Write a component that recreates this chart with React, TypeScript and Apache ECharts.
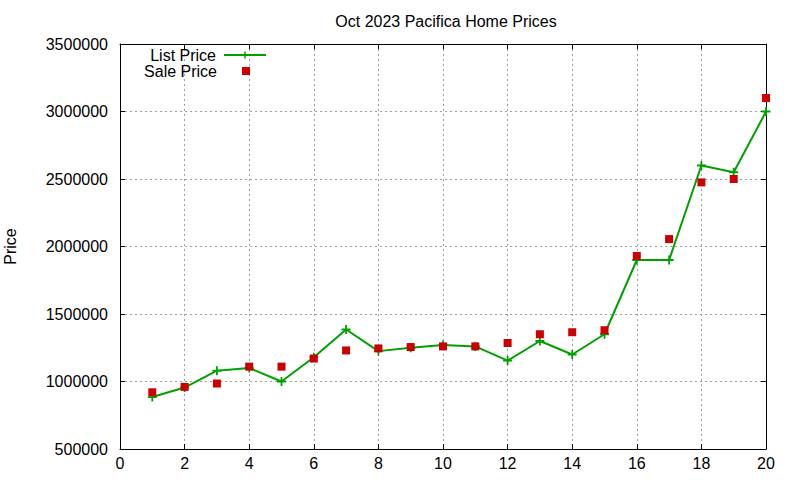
import React, { useEffect, useRef } from 'react'
import * as echarts from 'echarts'

const listings = [1, 2, 3, 4, 5, 6, 7, 8, 9, 10, 11, 12, 13, 14, 15, 16, 17, 18, 19, 20]
const listPrices = [885000, 955000, 1080000, 1100000, 1000000, 1180000, 1385000, 1225000, 1250000, 1270000, 1260000, 1155000, 1300000, 1200000, 1350000, 1900000, 1900000, 2600000, 2550000, 3000000]
const salePrices = [920000, 960000, 985000, 1110000, 1110000, 1170000, 1230000, 1245000, 1255000, 1260000, 1260000, 1285000, 1350000, 1365000, 1380000, 1930000, 2055000, 2475000, 2500000, 3100000]

const FONT = 'Liberation Sans, Arial, sans-serif'
const GREEN = '#00a000'
const RED = '#cc0000'
const PLUS = 'path://M4,0H6V4H10V6H6V10H4V6H0V4H4Z'

const App = () => {
    const chartRef = useRef<HTMLDivElement>(null)

    useEffect(() => {
        if (!chartRef.current) return
        const myChart = echarts.init(chartRef.current, null, { renderer: 'svg' })

        const axisLine = { show: true, onZero: false, lineStyle: { color: '#000', width: 1 } }
        const axisTick = { show: true, inside: true, length: 5, lineStyle: { color: '#000' } }
        const gridLine = { show: true, lineStyle: { color: '#a0a0a0', type: [2, 3], width: 1 } }
        const legendText = { fontFamily: FONT, fontSize: 16, color: '#000', lineHeight: 15 }

        const option = {
            animation: false,
            textStyle: { fontFamily: FONT },
            title: {
                text: 'Oct 2023 Pacifica Home Prices',
                left: 441,
                top: 8,
                textAlign: 'center',
                textStyle: { fontFamily: FONT, fontSize: 16, fontWeight: 'normal', color: '#000' },
            },
            legend: [
                {
                    data: ['List Price'],
                    right: 533,
                    top: 47,
                    padding: 0,
                    align: 'right',
                    itemWidth: 42,
                    itemHeight: 9,
                    textStyle: { ...legendText, padding: [0, 3, 0, 0] },
                    selectedMode: false,
                },
                {
                    data: [{ name: 'Sale Price', icon: 'rect' }],
                    right: 550,
                    top: 63,
                    padding: 0,
                    align: 'right',
                    itemWidth: 8,
                    itemHeight: 8,
                    textStyle: { ...legendText, padding: [0, 20, 0, 0] },
                    selectedMode: false,
                },
            ],
            grid: { left: 120, right: 34, top: 44, bottom: 31, containLabel: false, outerBoundsMode: 'none' },
            xAxis: [
                {
                    type: 'value',
                    min: 0,
                    max: 20,
                    interval: 2,
                    axisLine,
                    axisTick,
                    axisLabel: { fontFamily: FONT, fontSize: 16, color: '#000', margin: 6 },
                    splitLine: gridLine,
                },
                {
                    type: 'value',
                    position: 'top',
                    min: 0,
                    max: 20,
                    interval: 2,
                    axisLine,
                    axisTick,
                    axisLabel: { show: false },
                    splitLine: { show: false },
                },
            ],
            yAxis: [
                {
                    type: 'value',
                    min: 500000,
                    max: 3500000,
                    interval: 500000,
                    name: 'Price',
                    nameLocation: 'middle',
                    nameRotate: 90,
                    nameGap: 102,
                    nameTextStyle: { fontFamily: FONT, fontSize: 16, color: '#000' },
                    axisLine,
                    axisTick,
                    axisLabel: {
                        fontFamily: FONT,
                        fontSize: 16,
                        color: '#000',
                        margin: 12,
                        formatter: (v: number) => String(v),
                    },
                    splitLine: gridLine,
                },
                {
                    type: 'value',
                    position: 'right',
                    min: 500000,
                    max: 3500000,
                    interval: 500000,
                    axisLine,
                    axisTick,
                    axisLabel: { show: false },
                    splitLine: { show: false },
                },
            ],
            series: [
                {
                    name: 'List Price',
                    type: 'line',
                    data: listings.map((x, i) => [x, listPrices[i]]),
                    symbol: PLUS,
                    symbolSize: 9,
                    showSymbol: true,
                    lineStyle: { color: GREEN, width: 2 },
                    itemStyle: { color: GREEN },
                    z: 2,
                },
                {
                    name: 'Sale Price',
                    type: 'scatter',
                    data: listings.map((x, i) => [x, salePrices[i]]),
                    symbol: 'rect',
                    symbolSize: 8,
                    itemStyle: { color: RED, opacity: 1 },
                    z: 3,
                },
            ],
        }

        try {
            myChart.setOption(option)
        } catch (err) {
            console.error('Error setting chart options:', err)
        }

        return () => {
            myChart.dispose()
        }
    }, [])

    return (
        <div
            ref={chartRef}
            style={{ position: 'absolute', left: 0, top: 0, width: '800px', height: '480px', background: '#fff' }}
        />
    )
}

export default App
